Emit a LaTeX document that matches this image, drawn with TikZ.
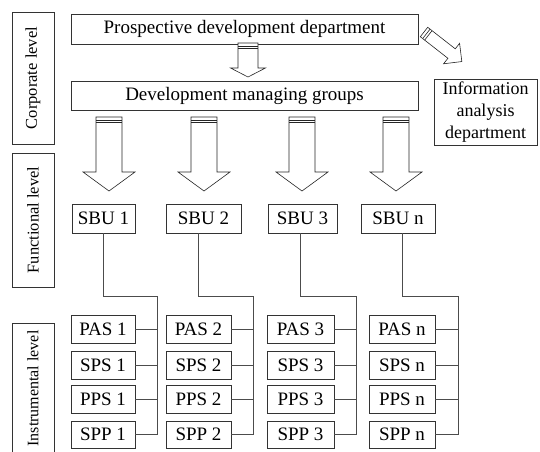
\documentclass[tikz,border=0pt]{standalone}
\usepackage{fontspec}
\setmainfont{Liberation Serif}

\tikzset{
  caixa/.style={draw=black!80, line width=0.6pt, inner sep=0pt,
    font=\fontsize{19}{22}\selectfont},
  nivel/.style={draw=black!80, line width=0.6pt, inner sep=0pt, rotate=90,
    minimum height=42pt, font=\fontsize{16.5}{20}\selectfont},
  liga/.style={draw=black!70, line width=0.6pt},
  seta/.style={draw=black!85, line width=0.6pt, fill=white, line join=miter}
}

% seta oca: origem, rotação, comprimento, meia largura, meia ponta, ponta
\newcommand{\setaoca}[6]{%
  \begin{scope}[shift={#1}, rotate=#2]
    \draw[seta] (-#4,0) -- (-#4,#3-#6) -- (-#5,#3-#6) -- (0,#3)
      -- (#5,#3-#6) -- (#4,#3-#6) -- (#4,0) -- cycle;
    \draw[seta] (-#4,3) -- (#4,3) (-#4,5.5) -- (#4,5.5);
  \end{scope}}

\begin{document}
\begin{tikzpicture}[x=1pt,y=-1pt]
    \useasboundingbox (0,0) rectangle (540,451);

    % níveis
    \node[nivel, minimum width=132pt] (corp) at (33,78) {Corporate level};
    \node[nivel, minimum width=134pt] (func) at (33,220) {Functional level};
    \node[nivel, minimum width=131pt, font=\fontsize{16}{20}\selectfont]
      (instr) at (33,388.5) {Instrumental level};

    % departamentos
    \node[caixa, minimum width=347pt, minimum height=30pt] (prosp) at (244.5,29)
      {Prospective development department};
    \node[caixa, minimum width=347pt, minimum height=29pt] (grupos) at (244.5,95.5)
      {Development managing groups};
    \node[caixa, minimum width=103pt, minimum height=66pt, align=center,
      font=\fontsize{18}{22}\selectfont] (info) at (485.5,112)
      {Information\\analysis\\department};

    % setas ocas
    \setaoca{(248,43)}{0}{34}{10}{17.5}{9}
    \setaoca{(424,32)}{52}{48}{6}{13}{13}
    \foreach \x in {109,204,302,396} {
      \setaoca{(\x,117)}{0}{74}{13}{26}{19}
    }

    % SBU
    \foreach \c/\x/\w/\t in {1/103.5/63/1, 2/203.5/75/2, 3/302.5/69/3, 4/398/74/n}
      \node[caixa, minimum width=\w pt, minimum height=29pt] (sbu\c) at (\x,218.5) {SBU \t};

    % caixas do nível instrumental
    \foreach \c/\x/\w/\t in {1/103/64/1, 2/198.5/65/2, 3/300.5/67/3, 4/402/66/n} {
      \node[caixa, minimum width=\w pt, minimum height=28pt] (pas\c) at (\x,329) {PAS \t};
      \node[caixa, minimum width=\w pt, minimum height=28pt] (sps\c) at (\x,365) {SPS \t};
      \node[caixa, minimum width=\w pt, minimum height=28pt] (pps\c) at (\x,399) {PPS \t};
      \node[caixa, minimum width=\w pt, minimum height=27pt] (spp\c) at (\x,434.5) {SPP \t};
    }

    % ligações
    \foreach \c/\tx in {1/157, 2/253, 3/356, 4/458} {
      \coordinate (tr\c) at (\tx,296);
      \coordinate (tb\c) at (\tx,434.5);
      \draw[liga] (sbu\c.south -| pas\c) |- (tr\c) -- (tb\c);
      \foreach \r in {pas,sps,pps,spp}
        \draw[liga] (\r\c.east) -- (\r\c.east -| tr\c);
    }

\end{tikzpicture}
\end{document}
